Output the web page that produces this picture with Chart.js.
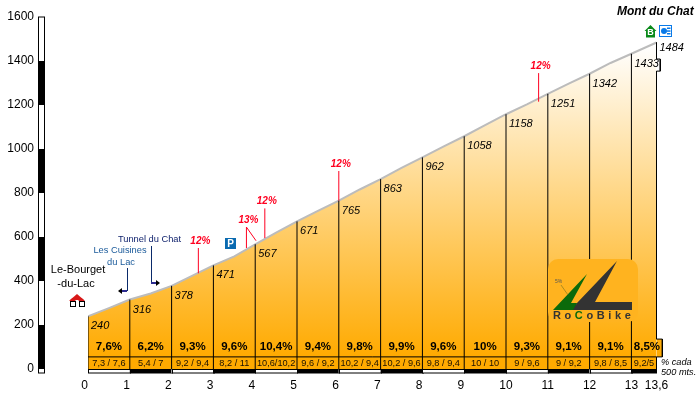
<!DOCTYPE html>
<html>
<head>
<meta charset="utf-8">
<title>Mont du Chat</title>
<script src="https://cdn.jsdelivr.net/npm/chart.js@4/dist/chart.umd.js"></script>
<style>
    html, body { margin: 0; padding: 0; background: #fff; }
    canvas { display: block; }
</style>
</head>
<body>
<canvas id="profileChart" width="700" height="395"></canvas>
<script>
const kmMarks = [0, 1, 2, 3, 4, 5, 6, 7, 8, 9, 10, 11, 12, 13, 13.6];
const kmElevations = [240, 316, 378, 471, 567, 671, 765, 863, 962, 1058, 1158, 1251, 1342, 1433, 1484];
const kmLabels = ['0', '1', '2', '3', '4', '5', '6', '7', '8', '9', '10', '11', '12', '13', '13,6'];

const profileKm = [0, 0.5, 1, 1.5, 2, 2.5, 3, 3.5, 4, 4.5, 5, 5.5, 6, 6.5, 7, 7.5, 8, 8.5, 9, 9.5, 10, 10.5, 11, 11.5, 12, 12.5, 13, 13.6];
const profileElevation = [240, 277, 316, 343, 378, 424, 471, 512, 567, 620, 671, 719, 765, 816, 863, 914, 962, 1011, 1058, 1108, 1158, 1203, 1251, 1297, 1342, 1391, 1433, 1484];

const kmGradients = ['7,6%', '6,2%', '9,3%', '9,6%', '10,4%', '9,4%', '9,8%', '9,9%', '9,6%', '10%', '9,3%', '9,1%', '9,1%', '8,5%'];
const halfKmGradients = ['7,3 / 7,6', '5,4 / 7', '9,2 / 9,4', '8,2 / 11', '10,6/10,2', '9,6 / 9,2', '10,2 / 9,4', '10,2 / 9,6', '9,8 / 9,4', '10 / 10', '9 / 9,6', '9 / 9,2', '9,8 / 8,5', '9,2/5'];

const rampLabels = ['12%', '13%', '12%', '12%', '12%'];
const rampKm = [2.64, 3.79, 4.23, 6, 10.78];
const rampFoot = [435, 550, 595, 765, 1215];
const rampTop = [550, 645, 730, 900, 1345];

const rowLineElevation = 55;
const summitEdgeKm = [13.6, 13.6, 13.69, 13.69, 13.6, 13.6, 13.74, 13.74, 13.6, 13.6];
const summitEdgeElevation = [1484, 1409, 1409, 1354, 1354, 136, 136, 55, 55, 0];

const elevationLabelFont = 'italic 11px "Liberation Sans", Arial, sans-serif';
const plainFont = (size) => `${size}px "Liberation Sans", Arial, sans-serif`;
const boldFont = (size) => `bold ${size}px "Liberation Sans", Arial, sans-serif`;

const toPoints = (xs, ys) => xs.map((x, i) => ({ x: x, y: ys[i] }));

// vertical lines with a gap between each one
const dropLines = () => {
    let pts = [];
    for (let i = 0; i < kmMarks.length - 1; i++) {
        pts.push({ x: kmMarks[i], y: 0 }, { x: kmMarks[i], y: kmElevations[i] }, { x: kmMarks[i], y: NaN });
    }
    return pts;
};

const rampLines = () => {
    let pts = [];
    for (let i = 0; i < rampKm.length; i++) {
        pts.push({ x: rampKm[i], y: rampFoot[i] }, { x: rampKm[i], y: rampTop[i] }, { x: rampKm[i], y: NaN });
    }
    return pts;
};

const profileFill = (ctx, area) => {
    let g = ctx.createLinearGradient(0, 45, 0, area.bottom - 12);
    g.addColorStop(0, '#ffffff');
    g.addColorStop(1, '#ffaa00');
    return g;
};

const drawText = (ctx, text, x, y, font, color, align) => {
    ctx.font = font;
    ctx.fillStyle = color;
    ctx.textAlign = align || 'left';
    ctx.textBaseline = 'middle';
    ctx.fillText(text, x, y);
};

const drawStrips = (ctx, xs, ys) => {
    // distance strip under the plot
    ctx.lineWidth = 1;
    for (let i = 0; i < kmMarks.length - 1; i++) {
        let x0 = xs.getPixelForValue(kmMarks[i]);
        let x1 = xs.getPixelForValue(kmMarks[i + 1]);
        ctx.fillStyle = i % 2 === 0 ? '#ffffff' : '#000000';
        ctx.strokeStyle = '#000000';
        ctx.fillRect(x0, 369, x1 - x0, 4);
        ctx.strokeRect(Math.round(x0) + 0.5, 369.5, Math.round(x1 - x0), 3.5);
    }
    // elevation strip on the left
    let ticks = ys.ticks.map((t) => t.value);
    for (let i = 0; i < ticks.length - 1; i++) {
        let top = ys.getPixelForValue(ticks[i + 1]);
        let bottom = ys.getPixelForValue(ticks[i]);
        ctx.fillStyle = i % 2 === 0 ? '#000000' : '#ffffff';
        ctx.fillRect(38.5, top, 6, bottom - top);
    }
    ctx.strokeStyle = '#000000';
    ctx.strokeRect(38.5, ys.getPixelForValue(1600), 6, ys.getPixelForValue(0) - ys.getPixelForValue(1600) + 4);
};

const drawArrow = (ctx, x, yTop, yBottom, dir) => {
    ctx.strokeStyle = '#0a2a6a';
    ctx.lineWidth = 1;
    ctx.beginPath();
    ctx.moveTo(x + 0.5, yTop);
    ctx.lineTo(x + 0.5, yBottom);
    ctx.stroke();
    ctx.fillStyle = '#2c2c90';
    ctx.fillRect(dir > 0 ? x : x - 6, yBottom - 1, 6, 2);
    ctx.fillStyle = '#000000';
    ctx.beginPath();
    let tip = x + dir * 9;
    ctx.moveTo(tip, yBottom);
    ctx.lineTo(tip - dir * 4, yBottom - 3);
    ctx.lineTo(tip - dir * 4, yBottom + 3);
    ctx.fill();
};

const drawTownIcon = (ctx, cx, cy) => {
    ctx.fillStyle = '#d81818';
    ctx.beginPath();
    ctx.moveTo(cx - 7, cy);
    ctx.lineTo(cx, cy - 6);
    ctx.lineTo(cx + 7, cy);
    ctx.fill();
    [[cx - 7, 4], [cx + 2, 4]].forEach((h) => {
        ctx.fillStyle = '#d81818';
        ctx.beginPath();
        ctx.moveTo(h[0] - 1, cy + 1);
        ctx.lineTo(h[0] + 2.5, cy - 2);
        ctx.lineTo(h[0] + 6, cy + 1);
        ctx.fill();
        ctx.fillStyle = '#ffffff';
        ctx.strokeStyle = '#000000';
        ctx.lineWidth = 1;
        ctx.fillRect(h[0], cy + 1, 5, 5);
        ctx.strokeRect(h[0] + 0.5, cy + 1.5, 5, 5);
    });
};

const drawSummitIcons = (ctx) => {
    ctx.fillStyle = '#0a8a1a';
    ctx.beginPath();
    ctx.moveTo(650.5, 25);
    ctx.lineTo(656.5, 31);
    ctx.lineTo(655, 31);
    ctx.lineTo(655, 37.5);
    ctx.lineTo(646, 37.5);
    ctx.lineTo(646, 31);
    ctx.lineTo(644.5, 31);
    ctx.fill();
    drawText(ctx, 'B', 650.5, 33, boldFont(9), '#ffffff', 'center');
    ctx.strokeStyle = '#0a7ae8';
    ctx.lineWidth = 1;
    ctx.fillStyle = '#ffffff';
    ctx.fillRect(660, 25, 11, 12);
    ctx.strokeRect(659.5, 25.5, 12, 11);
    ctx.fillStyle = '#0a7ae8';
    ctx.beginPath();
    ctx.arc(664, 31, 3, 0, Math.PI * 2);
    ctx.fill();
    ctx.fillRect(667, 27.5, 3.5, 1.5);
    ctx.fillRect(667, 30.3, 3.5, 1.5);
    ctx.fillRect(667, 33, 3.5, 1.5);
};

const drawLogo = (ctx) => {
    ctx.fillStyle = '#ffb31f';
    ctx.beginPath();
    ctx.roundRect(548, 259, 90, 63, 10);
    ctx.fill();
    ctx.fillStyle = '#0b6a0b';
    ctx.beginPath();
    ctx.moveTo(553, 310);
    ctx.lineTo(587, 274);
    ctx.lineTo(571, 303);
    ctx.lineTo(577, 303);
    ctx.lineTo(575, 310);
    ctx.fill();
    ctx.fillStyle = '#333333';
    ctx.beginPath();
    ctx.moveTo(617, 261);
    ctx.lineTo(595, 302);
    ctx.lineTo(632, 302);
    ctx.lineTo(632, 310);
    ctx.lineTo(573, 310);
    ctx.lineTo(577, 303);
    ctx.fill();
    ctx.strokeStyle = '#8a7a20';
    ctx.lineWidth = 0.7;
    ctx.beginPath();
    ctx.moveTo(561, 285);
    ctx.lineTo(568, 295);
    ctx.stroke();
    drawText(ctx, '5%', 555, 282, plainFont(5), '#555555');
    const name = [['R', '#333333'], ['o', '#333333'], ['C', '#0b6a0b'], ['o', '#333333'], ['B', '#333333'], ['i', '#333333'], ['k', '#333333'], ['e', '#333333']];
    let x = 553;
    name.forEach((n) => {
        drawText(ctx, n[0], x, 316, boldFont(11), n[1]);
        x += ctx.measureText(n[0]).width + 3.6;
    });
};

const profileDecor = {
    id: 'profileDecor',
    afterDatasetsDraw(chart) {
        const ctx = chart.ctx;
        const xs = chart.scales.x;
        const ys = chart.scales.y;
        ctx.save();
        drawStrips(ctx, xs, ys);
        drawLogo(ctx);

        for (let i = 0; i < kmElevations.length; i++) {
            let px = xs.getPixelForValue(kmMarks[i]);
            let py = ys.getPixelForValue(kmElevations[i]);
            if (i === kmElevations.length - 1) {
                drawText(ctx, String(kmElevations[i]), px + 3, py + 5, elevationLabelFont, '#000000');
            } else {
                drawText(ctx, String(kmElevations[i]), px + 3, py + 10, elevationLabelFont, '#000000');
            }
        }

        for (let i = 0; i < kmGradients.length; i++) {
            let mid = xs.getPixelForValue((kmMarks[i] + kmMarks[i + 1]) / 2);
            let last = i === kmGradients.length - 1;
            drawText(ctx, kmGradients[i], last ? mid + 3 : mid, 347, boldFont(11.5), '#000000', 'center');
            drawText(ctx, halfKmGradients[i], mid, 363, plainFont(9.2), '#1a1000', 'center');
        }

        for (let i = 0; i < rampLabels.length; i++) {
            let px = xs.getPixelForValue(rampKm[i]);
            let py = ys.getPixelForValue(rampTop[i]);
            drawText(ctx, rampLabels[i], px + 2, py - 7, 'italic bold 10px "Liberation Sans", Arial, sans-serif', '#ff0020', 'center');
        }
        // the 13% ramp leans over towards the line
        ctx.strokeStyle = '#ff0020';
        ctx.lineWidth = 1;
        ctx.beginPath();
        ctx.moveTo(xs.getPixelForValue(rampKm[1]), ys.getPixelForValue(rampTop[1]));
        ctx.lineTo(xs.getPixelForValue(4.02), ys.getPixelForValue(583));
        ctx.stroke();

        drawText(ctx, 'Mont du Chat', 617, 12, 'italic bold 12px "Liberation Sans", Arial, sans-serif', '#000000');
        drawSummitIcons(ctx);
        drawText(ctx, 'Le-Bourget', 78, 270, plainFont(11), '#000000', 'center');
        drawText(ctx, '-du-Lac', 76, 284, plainFont(11), '#000000', 'center');
        drawTownIcon(ctx, 77, 300);
        drawText(ctx, 'Tunnel du Chat', 149.5, 239, plainFont(9.3), '#12246e', 'center');
        drawText(ctx, 'Les Cuisines', 120, 250.5, plainFont(9.3), '#1a5a9a', 'center');
        drawText(ctx, 'du Lac', 121, 262.5, plainFont(9.3), '#1a5a9a', 'center');
        drawArrow(ctx, 127, 268, 291, -1);
        drawArrow(ctx, 151, 246, 283, 1);

        ctx.fillStyle = '#0a6ab0';
        ctx.fillRect(225, 238, 11, 11);
        drawText(ctx, 'P', 230.5, 244, boldFont(10), '#ffffff', 'center');

        drawText(ctx, '% cada', 661, 362, 'italic 9.2px "Liberation Sans", Arial, sans-serif', '#000000');
        drawText(ctx, '500 mts.', 661, 372.5, 'italic 9.2px "Liberation Sans", Arial, sans-serif', '#000000');
        ctx.restore();
    },
    beforeDatasetsDraw(chart) {
        // orange box sticking out past the last km
        const ctx = chart.ctx;
        const xs = chart.scales.x;
        const ys = chart.scales.y;
        ctx.save();
        ctx.fillStyle = profileFill(ctx, chart.chartArea);
        let x0 = xs.getPixelForValue(13.6);
        let x1 = xs.getPixelForValue(summitEdgeKm[6]);
        ctx.fillRect(x0, ys.getPixelForValue(summitEdgeElevation[5]), x1 - x0, ys.getPixelForValue(rowLineElevation) - ys.getPixelForValue(summitEdgeElevation[5]));
        ctx.restore();
    },
};

let profileChart = new Chart(document.getElementById('profileChart').getContext('2d'), {
    type: 'scatter',
    data: {
        datasets: [
            {
                label: 'km lines',
                data: dropLines(),
                showLine: true,
                spanGaps: false,
                borderColor: '#000000',
                borderWidth: 1,
                pointRadius: 0,
                order: 1,
            },
            {
                label: 'row line',
                data: toPoints([0, 13.6], [rowLineElevation, rowLineElevation]),
                showLine: true,
                borderColor: '#000000',
                borderWidth: 1,
                pointRadius: 0,
                order: 1,
            },
            {
                label: 'summit edge',
                data: toPoints(summitEdgeKm, summitEdgeElevation),
                showLine: true,
                clip: false,
                borderColor: '#000000',
                borderWidth: 1,
                pointRadius: 0,
                order: 1,
            },
            {
                label: 'ramps',
                data: rampLines(),
                showLine: true,
                spanGaps: false,
                borderColor: '#ff0020',
                borderWidth: 1,
                pointRadius: 0,
                order: 2,
            },
            {
                label: 'Elevation',
                data: toPoints(profileKm, profileElevation),
                showLine: true,
                fill: 'origin',
                backgroundColor: (c) => (c.chart.chartArea ? profileFill(c.chart.ctx, c.chart.chartArea) : '#ffaa00'),
                borderColor: '#bcbcbc',
                borderWidth: 2,
                pointRadius: 0,
                tension: 0,
                order: 3,
            },
        ],
    },
    options: {
        responsive: false,
        animation: false,
        layout: { padding: { left: 0, right: 43.5, top: 17, bottom: 0 } },
        plugins: { legend: { display: false }, tooltip: { enabled: false } },
        scales: {
            x: {
                type: 'linear',
                min: 0,
                max: 13.6,
                grid: { display: false, drawTicks: false },
                border: { display: false },
                afterBuildTicks: (axis) => {
                    axis.ticks = kmMarks.map((v) => ({ value: v }));
                },
                afterFit: (axis) => {
                    axis.height = 26;
                    axis.paddingLeft = 0;
                    axis.paddingRight = 0;
                },
                ticks: {
                    autoSkip: false,
                    maxRotation: 0,
                    padding: 9,
                    color: '#000000',
                    font: { family: '"Liberation Sans", Arial, sans-serif', size: 12 },
                    // one digit labels sit left of their line in the original
                    callback: (v) => {
                        let lbl = kmLabels[kmMarks.indexOf(v)];
                        return lbl.length === 1 ? lbl + '  ' : lbl;
                    },
                },
            },
            y: {
                min: 0,
                max: 1600,
                grid: { display: false, drawTicks: false },
                border: { display: false },
                afterFit: (axis) => {
                    axis.width = 88;
                    axis.paddingTop = 0;
                    axis.paddingBottom = 0;
                },
                ticks: {
                    stepSize: 200,
                    padding: 54,
                    color: '#000000',
                    font: { family: '"Liberation Sans", Arial, sans-serif', size: 12 },
                    callback: (v) => String(v),
                },
            },
        },
    },
    plugins: [profileDecor],
});
</script>
</body>
</html>
